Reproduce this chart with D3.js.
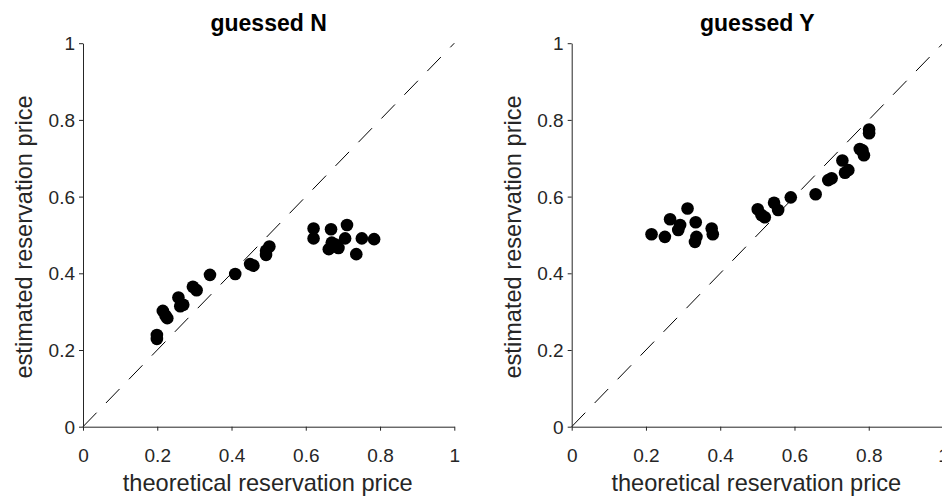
<!DOCTYPE html>
<html><head><meta charset="utf-8">
<script src="https://cdn.jsdelivr.net/npm/d3@7"></script>
<style>body{margin:0;background:#fff}svg{display:block}text{font-family:"Liberation Sans",Arial,sans-serif}</style>
</head><body>
<script>
const titles = ["guessed N", "guessed Y"];
const xLabel = "theoretical reservation price";
const yLabel = "estimated reservation price";
const ticks = [0, 0.2, 0.4, 0.6, 0.8, 1];
const guessedNx = [0.199,0.199,0.215,0.227,0.222,0.257,0.262,0.270,0.296,0.306,0.342,0.410,0.450,0.459,0.493,0.493,0.502,0.621,0.621,0.668,0.670,0.662,0.688,0.680,0.706,0.711,0.736,0.751,0.784];
const guessedNy = [0.239,0.229,0.302,0.283,0.290,0.337,0.314,0.318,0.365,0.356,0.396,0.398,0.424,0.420,0.448,0.459,0.470,0.517,0.491,0.515,0.480,0.463,0.466,0.475,0.491,0.526,0.450,0.491,0.489];
const guessedYx = [0.215,0.251,0.265,0.287,0.292,0.312,0.334,0.336,0.332,0.377,0.380,0.501,0.511,0.520,0.545,0.556,0.590,0.657,0.691,0.700,0.729,0.736,0.745,0.776,0.783,0.787,0.801,0.801];
const guessedYy = [0.502,0.495,0.541,0.513,0.526,0.569,0.533,0.495,0.482,0.517,0.502,0.567,0.552,0.546,0.584,0.565,0.598,0.606,0.643,0.648,0.694,0.662,0.669,0.724,0.721,0.708,0.775,0.765];

const W = 942, H = 496;
const svg = d3.select("body").append("svg").attr("width", W).attr("height", H);
const panels = [
  {left: 83, title: titles[0], xs: guessedNx, ys: guessedNy},
  {left: 571.7, title: titles[1], xs: guessedYx, ys: guessedYy}
];
const pw = 371.3, plotTop = 43.2, plotBottom = 426.7;
const axisColor = "#262626";

panels.forEach(p => {
  const x = d3.scaleLinear().domain([0, 1]).range([p.left, p.left + pw]);
  const y = d3.scaleLinear().domain([0, 1]).range([plotBottom, plotTop]);
  const g = svg.append("g");

  g.append("line").attr("x1", x(0)).attr("y1", y(0)).attr("x2", x(1)).attr("y2", y(1))
    .attr("stroke", "#000").attr("stroke-width", 1).attr("stroke-dasharray", "19.5,13.5");

  g.selectAll("circle").data(p.xs.map((v, i) => [v, p.ys[i]])).join("circle")
    .attr("cx", d => x(d[0])).attr("cy", d => y(d[1])).attr("r", 6.3).attr("fill", "#000");

  const xa = g.append("g").attr("transform", `translate(0,${plotBottom})`)
    .call(d3.axisBottom(x).tickValues(ticks).tickFormat(d3.format("")).tickSize(4).tickSizeOuter(0));
  const ya = g.append("g").attr("transform", `translate(${p.left},0)`)
    .call(d3.axisLeft(y).tickValues(ticks).tickFormat(d3.format("")).tickSize(4).tickSizeOuter(0));
  [xa, ya].forEach(a => {
    a.select(".domain").attr("stroke", axisColor);
    a.selectAll(".tick line").attr("stroke", axisColor);
    a.selectAll(".tick text").attr("fill", axisColor).style("font-size", "19px")
      .style("font-family", '"Liberation Sans", Arial, sans-serif');
  });
  xa.selectAll(".tick text").attr("dy", null).attr("y", 35);
  ya.selectAll(".tick text").attr("x", -8).attr("dy", "0.35em");

  g.append("text").attr("x", x(0.5) - 1).attr("y", 491).attr("text-anchor", "middle")
    .attr("fill", axisColor).style("font-size", "23.6px").text(xLabel);
  g.append("text").attr("transform", `translate(${p.left - 51},${y(0.5) + 2}) rotate(-90)`)
    .attr("text-anchor", "middle").attr("fill", axisColor).style("font-size", "23.6px").text(yLabel);
  g.append("text").attr("x", x(0.5)).attr("y", 31).attr("text-anchor", "middle")
    .attr("fill", "#000").style("font-size", "23px").style("font-weight", "bold").text(p.title);
});
</script>
</body></html>
